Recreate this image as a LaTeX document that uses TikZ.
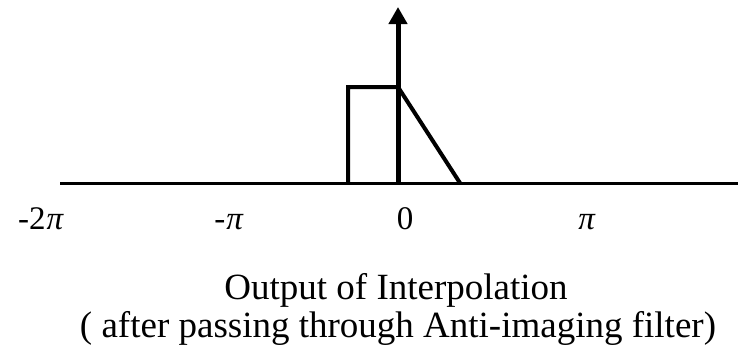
\documentclass[tikz,border=0pt]{standalone}
\usepackage{fontspec}
\setmainfont{Liberation Serif}
\usetikzlibrary{arrows.meta}

\begin{document}
\begin{tikzpicture}[x=1pt, y=-1pt,
    ticklabel/.style={font=\fontsize{33}{33}\selectfont, anchor=base, inner sep=0pt},
    caption/.style={font=\fontsize{37}{37}\selectfont, anchor=base, inner sep=0pt}]

        \useasboundingbox (0,0) rectangle (738,349);

        % Frequency axis
        \coordinate (axisL) at (60,183);
        \coordinate (axisR) at (738,183);
        \draw[line width=3pt] (axisL) -- (axisR);

        % Impulse at zero
        \coordinate (zero) at (398,183);
        \coordinate (top) at (398,7);
        \draw[line width=5pt, -{Triangle[length=17pt, width=18pt]}] (zero) -- (top);

        % Spectrum after the filter
        \coordinate (boxL) at (348,183);
        \coordinate (boxTL) at (348,87);
        \coordinate (peak) at (398,87);
        \coordinate (edge) at (460,183);
        \draw[line width=4pt, line join=miter] (boxL) -- (boxTL) -- (peak) -- (edge);

        % Tick labels
        \node[ticklabel] (m2pi) at (41,229) {-2\kern1pt\textit{π}};
        \node[ticklabel] (mpi) at (229,229) {-\kern1pt\textit{π}};
        \node[ticklabel] (z) at (405,229) {0};
        \node[ticklabel] (pi) at (587,229) {\textit{π}};

        % Caption
        \node[caption] (cap1) at (396,299) {Output of Interpolation};
        \node[caption] (cap2) at (398,337) {( after passing through Anti-imaging filter)};

    \end{tikzpicture}
\end{document}
